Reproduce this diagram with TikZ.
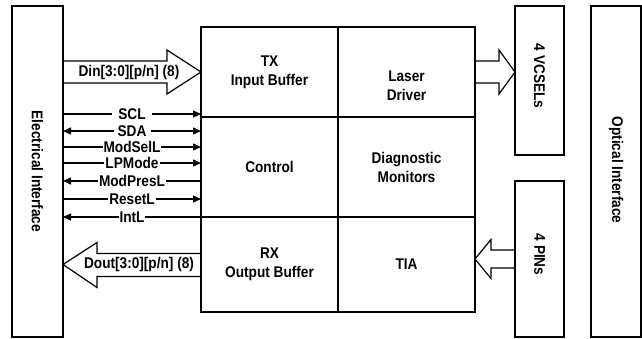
\documentclass[tikz,border=0pt]{standalone}
\usepackage{fontspec}
\setmainfont{Liberation Sans}[FakeStretch=0.88]
\usetikzlibrary{arrows.meta,positioning}
\tikzset{
  sidebox/.style={draw,line width=1.2pt,inner sep=0pt,outer sep=0pt},
  cell/.style={draw,line width=1.2pt,minimum width=137pt,inner sep=0pt,outer sep=0pt,align=center},
  sigline/.style={line width=1.2pt,>={Triangle[length=8pt,width=7pt]}},
  siglabel/.style={fill=white,inner xsep=1pt,inner ysep=0pt},
  fatarrow/.style={draw,line width=1.2pt,line join=miter}
}

\begin{document}
\begin{tikzpicture}[x=1pt,y=-1pt,every node/.style={font=\fontsize{15.5}{19}\selectfont\bfseries}]
  \useasboundingbox (0,0) rectangle (642,338);
  % side blocks
  \node[sidebox,minimum width=51pt,minimum height=331pt] (elec) at (37.5,171.5) {\rotatebox{-90}{Electrical Interface}};
  \node[sidebox,minimum width=50pt,minimum height=331pt] (optic) at (616,171.5) {\rotatebox{-90}{Optical Interface\kern3pt}};
  \node[sidebox,minimum width=49pt,minimum height=149pt] (vcsel) at (539.5,80.5) {\rotatebox{-90}{4 VCSELs\kern9pt}};
  \node[sidebox,minimum width=49pt,minimum height=156pt] (pin) at (539.5,259) {\rotatebox{-90}{4 PINs\kern9pt}};

  % module core
  \node[cell,minimum height=90pt] (tx) at (269.5,72) {TX\\Input Buffer};
  \node[cell,minimum height=90pt,right=0pt of tx,
        label={[yshift=-14pt,align=center]center:Laser\\Driver}] (laser) {};
  \node[cell,minimum height=100pt,below=0pt of tx] (ctrl) {Control};
  \node[cell,minimum height=100pt,right=0pt of ctrl] (diag) {Diagnostic\\Monitors};
  \node[cell,minimum height=95pt,below=0pt of ctrl] (rx) {RX\\Output Buffer};
  \node[cell,minimum height=95pt,right=0pt of rx] (tia) {TIA};

  % management signals
  \foreach \yy/\sig/\tip/\gap in {114/SCL/->/40,131/SDA/<->/37,147/ModSelL/->/0,
      163/LPMode/->/0,181/ModPresL/<-/0,199/ResetL/->/0,217/IntL/<-/0}{
    \coordinate (s) at (0,\yy);
    \draw[sigline,\tip] (elec.east |- s) -- (ctrl.west |- s)
      node[siglabel,minimum width=\gap pt,pos=0.5] {\sig};
  }

  % high speed lanes
  \draw[fatarrow] (elec.east |- tx.west) ++(0,-11) -- ++(104,0) -- ++(0,-11)
    -- (tx.west) -- ++(-34,22) -- ++(0,-11) -- ++(-104,0);
  \node (din) at (129,72) {Din[3:0][p/n] (8)};
  \draw[fatarrow] (rx.west) ++(0,-11) -- ++(-104,0) -- ++(0,-11)
    -- (elec.east |- rx.west) -- ++(34,23) -- ++(0,-11) -- ++(104,0);
  \node (dout) at (139,264.5) {Dout[3:0][p/n] (8)};

  % optical side
  \draw[fatarrow] (laser.east) ++(0,-11) -- ++(24,0) -- ++(0,-11)
    -- (vcsel.west |- laser.east) -- ++(-16,22) -- ++(0,-11) -- ++(-24,0);
  \draw[fatarrow] (pin.west) ++(0,-9) -- ++(-24,0) -- ++(0,-10.5)
    -- (tia.east |- pin.west) -- ++(16,19.5) -- ++(0,-10.5) -- ++(24,0);
\end{tikzpicture}
\end{document}
